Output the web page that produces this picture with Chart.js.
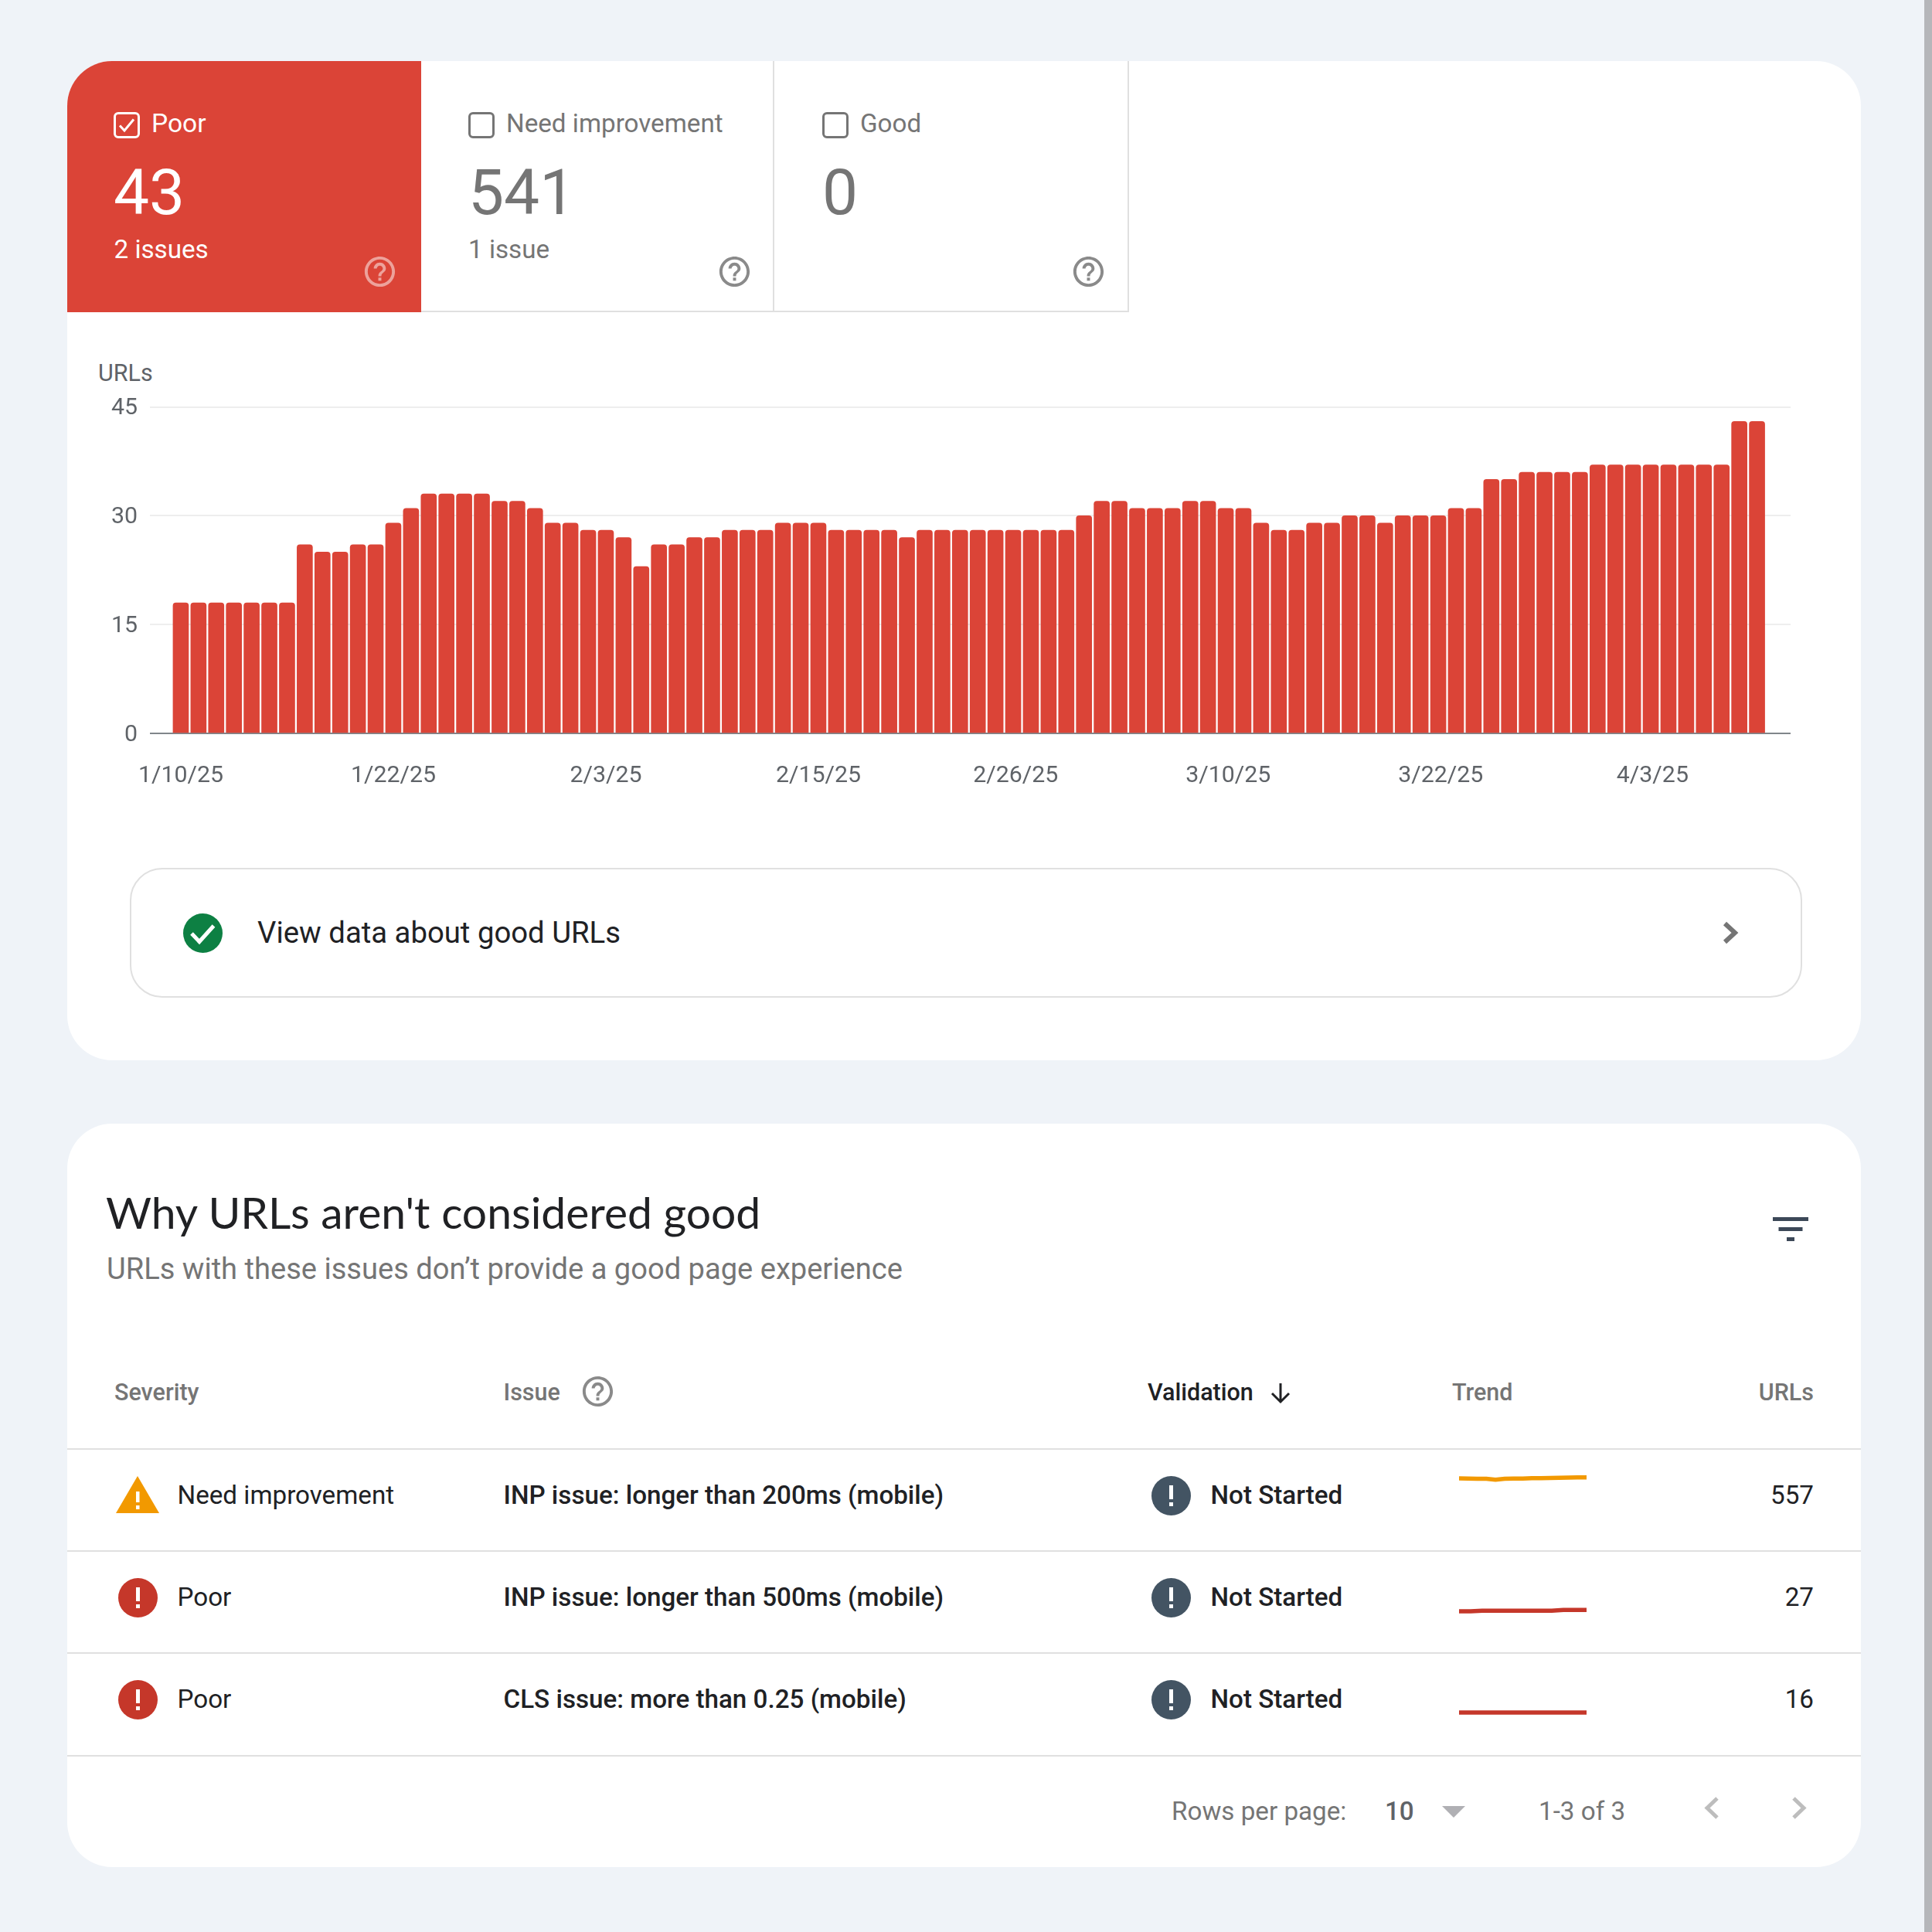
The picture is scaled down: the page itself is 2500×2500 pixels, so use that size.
<!DOCTYPE html>
<html>
<head>
<meta charset="utf-8">
<script src="https://cdn.jsdelivr.net/npm/chart.js@4"></script>
<style>
  html, body { margin: 0; padding: 0; }
  body { width: 2500px; height: 2500px; position: relative; overflow: hidden; background: #eff3f8; font-family: Roboto, sans-serif; }
  .abs { position: absolute; }
  .card { position: absolute; left: 87px; width: 2321px; background: #fff; border-radius: 58px; }
  .t { position: absolute; white-space: nowrap; line-height: 1; }
  canvas { position: absolute; display: block; }
  svg { position: absolute; overflow: visible; }
</style>
</head>
<body>
<div class="abs" style="left:2490px;top:0;width:10px;height:2500px;background:#b5b6ba"></div>
<div class="card" style="top:79px;height:1293px"></div>
<div class="card" style="top:1454px;height:962px"></div>

<!-- status tiles -->
<div class="abs" style="left:87px;top:79px;width:458px;height:325px;background:#db4437;border-top-left-radius:58px"></div>
<div class="abs" style="left:545px;top:402px;width:916px;height:2px;background:#e0e0e0"></div>
<div class="abs" style="left:1000px;top:79px;width:2px;height:325px;background:#e0e0e0"></div>
<div class="abs" style="left:1459px;top:79px;width:2px;height:325px;background:#e0e0e0"></div>

<!-- link to good urls -->
<div class="abs" style="left:168px;top:1123px;width:2160px;height:164px;border:2.5px solid #e0e0e0;border-radius:42px"></div>

<canvas id="mainChart" width="2240" height="530" style="left:100px;top:500px"></canvas>
<canvas id="spark0" width="165" height="120" style="left:1888px;top:1880px"></canvas>
<canvas id="spark1" width="165" height="120" style="left:1888px;top:2012px"></canvas>
<canvas id="spark2" width="165" height="120" style="left:1888px;top:2144px"></canvas>

<script>
// one bar per day, 1/10/25 to 4/9/25
const dates = [
  '1/10/25','1/11/25','1/12/25','1/13/25','1/14/25','1/15/25','1/16/25','1/17/25','1/18/25','1/19/25',
  '1/20/25','1/21/25','1/22/25','1/23/25','1/24/25','1/25/25','1/26/25','1/27/25','1/28/25','1/29/25',
  '1/30/25','1/31/25','2/1/25','2/2/25','2/3/25','2/4/25','2/5/25','2/6/25','2/7/25','2/8/25',
  '2/9/25','2/10/25','2/11/25','2/12/25','2/13/25','2/14/25','2/15/25','2/16/25','2/17/25','2/18/25',
  '2/19/25','2/20/25','2/21/25','2/22/25','2/23/25','2/24/25','2/25/25','2/26/25','2/27/25','2/28/25',
  '3/1/25','3/2/25','3/3/25','3/4/25','3/5/25','3/6/25','3/7/25','3/8/25','3/9/25','3/10/25',
  '3/11/25','3/12/25','3/13/25','3/14/25','3/15/25','3/16/25','3/17/25','3/18/25','3/19/25','3/20/25',
  '3/21/25','3/22/25','3/23/25','3/24/25','3/25/25','3/26/25','3/27/25','3/28/25','3/29/25','3/30/25',
  '3/31/25','4/1/25','4/2/25','4/3/25','4/4/25','4/5/25','4/6/25','4/7/25','4/8/25','4/9/25'
];
const poorUrls = [
  18,18,18,18,18,18,18,26,25,25,
  26,26,29,31,33,33,33,33,32,32,
  31,29,29,28,28,27,23,26,26,27,
  27,28,28,28,29,29,29,28,28,28,
  28,27,28,28,28,28,28,28,28,28,
  28,30,32,32,31,31,31,32,32,31,
  31,29,28,28,29,29,30,30,29,30,
  30,30,31,31,35,35,36,36,36,36,
  37,37,37,37,37,37,37,37,43,43
];
const shownDates = ['1/10/25','1/22/25','2/3/25','2/15/25','2/26/25','3/10/25','3/22/25','4/3/25'];
// the later labels sit a little past their bar in the picture
const shownDateSlots = [0, 12, 24, 36, 47.14, 59.14, 71.14, 83.1];
const yTicks = [0, 15, 30, 45];

const trendNeedImprovement = [549,548,545,546,538,546,547,548,550,550,552,553,555,557,557];
const trendInp500 = [26,26,26.5,26.5,26.5,26.5,26.5,26.5,26.5,27,27,27];
const trendCls = [16,16,16,16,16,16,16,16,16,16,16,16];
const trendMax = [757, 66.5, 40];

const rows = [
  ['Need improvement', 'INP issue: longer than 200ms (mobile)', 'Not Started', '557'],
  ['Poor', 'INP issue: longer than 500ms (mobile)', 'Not Started', '27'],
  ['Poor', 'CLS issue: more than 0.25 (mobile)', 'Not Started', '16']
];

const RED = '#db4437', GREY = '#757575', DARK = '#202124';
const HELP = 'M11 18h2v-2h-2v2zm1-16C6.48 2 2 6.48 2 12s4.48 10 10 10 10-4.48 10-10S17.52 2 12 2zm0 18c-4.41 0-8-3.59-8-8s3.59-8 8-8 8 3.59 8 8-3.59 8-8 8zm0-14c-2.21 0-4 1.79-4 4h2c0-1.1.9-2 2-2s2 .9 2 2c0 2-3 1.75-3 5h2c0-2.25 3-2.5 3-5 0-2.21-1.79-4-4-4z';

// text placed by its left (or right) edge and vertical centre
function text(str, x, cy, size, color, weight, right, family) {
  let el = document.createElement('div');
  el.className = 't';
  el.textContent = str;
  el.style.top = (cy - size / 2) + 'px';
  if (right) el.style.right = (2500 - x) + 'px'; else el.style.left = x + 'px';
  el.style.fontSize = size + 'px';
  el.style.color = color;
  el.style.fontWeight = weight || 400;
  if (family) el.style.fontFamily = family;
  document.body.appendChild(el);
  return el;
}

function svg(x, y, w, h, inner, viewBox) {
  let holder = document.createElement('div');
  holder.innerHTML = `<svg xmlns="http://www.w3.org/2000/svg" width="${w}" height="${h}" viewBox="${viewBox || `0 0 ${w} ${h}`}" style="left:${x}px;top:${y}px">${inner}</svg>`;
  document.body.appendChild(holder.firstChild);
}

function helpIcon(cx, cy, color, opacity) {
  svg(cx - 23.5, cy - 23.5, 47, 47, `<path d="${HELP}" fill="${color}" opacity="${opacity || 1}"/>`, '0 0 24 24');
}

function checkbox(x, color, checked) {
  svg(x, 145, 34, 34, `<rect x="1.5" y="1.5" width="31" height="31" rx="4.5" fill="none" stroke="${color}" stroke-width="3"/>` +
    (checked ? `<path d="M8 17.5l6 6.5 12-14.5" fill="none" stroke="${color}" stroke-width="3"/>` : ''));
}

function alertCircle(cx, cy, color) {
  svg(cx - 25.5, cy - 25.5, 51, 51, `<circle cx="25.5" cy="25.5" r="25.5" fill="${color}"/>` +
    `<rect x="23" y="12" width="5" height="18" fill="#fff"/><rect x="23" y="34" width="5" height="5" fill="#fff"/>`);
}

// tiles
checkbox(147, '#fff', true);
text('Poor', 196, 159.5, 33.5, '#fff');
text('43', 147, 249, 82, '#fff');
text('2 issues', 147.5, 322.5, 33.2, '#fff');
helpIcon(491, 351, '#fff', 0.5);

checkbox(606, GREY, false);
text('Need improvement', 655, 159.5, 33.2, GREY);
text('541', 606, 249, 82, GREY);
text('1 issue', 606, 322.5, 33.2, GREY);
helpIcon(950, 351, GREY, 0.85);

checkbox(1064, GREY, false);
text('Good', 1113, 159.5, 33.2, GREY);
text('0', 1064, 249, 82, GREY);
helpIcon(1408, 351, GREY, 0.85);

text('URLs', 127, 483.5, 30.5, '#5f6368');

// good urls link
svg(236.5, 1181.5, 51, 51, `<circle cx="25.5" cy="25.5" r="25.5" fill="#0d8043"/><path d="M11 26l10 10.5L39.5 16" fill="none" stroke="#fff" stroke-width="5"/>`);
text('View data about good URLs', 333, 1207, 38.3, DARK);
svg(2229, 1192, 20, 30, `<path d="M3 3l13 12L3 27" fill="none" stroke="${GREY}" stroke-width="6"/>`);

// issues card
text("Why URLs aren't considered good", 137, 1568.5, 57, DARK, 400, false, 'Lato');
text('URLs with these issues don\u2019t provide a good page experience', 138, 1642, 38.1, GREY);
svg(2294, 1575, 46, 32, `<rect y="0" width="46" height="5" fill="#3c4858"/><rect x="7.5" y="13" width="31" height="5" fill="#3c4858"/><rect x="18" y="26" width="10" height="5" fill="#3c4858"/>`);

text('Severity', 148, 1802, 30.5, GREY, 500);
text('Issue', 651.5, 1802, 30.5, GREY, 500);
helpIcon(773, 1800, GREY, 0.85);
text('Validation', 1485, 1802, 30.5, DARK, 500);
svg(1644, 1789, 26, 28, `<path d="M13 1v24M2 14l11 11 11-11" fill="none" stroke="${DARK}" stroke-width="3"/>`);
text('Trend', 1879, 1802, 30.5, GREY, 500);
text('URLs', 2347, 1802, 30.5, GREY, 500, true);

[1875, 2007, 2139, 2272].forEach(y => {
  let line = document.createElement('div');
  line.className = 'abs';
  line.style.cssText = `left:87px;top:${y - 1}px;width:2321px;height:2px;background:#e0e0e0`;
  document.body.appendChild(line);
});

rows.forEach((row, i) => {
  let cy = 1935 + i * 132;
  if (row[0] === 'Poor') {
    alertCircle(178, cy, '#c5372a');
  } else {
    svg(150, 1910, 56, 48, `<path d="M28 0L56 48H0z" fill="#f29900"/><rect x="26" y="20" width="4.5" height="14" fill="#fff"/><rect x="26" y="38" width="4.5" height="5" fill="#fff"/>`);
  }
  text(row[0], 229.5, cy, 33.2, DARK);
  text(row[1], 651.5, cy, 33.2, DARK, 500);
  alertCircle(1515, cy, '#435463');
  text(row[2], 1566.5, cy, 33.2, DARK, 500);
  text(row[3], 2347, cy, 33.2, DARK, 400, true);
});

// pagination
text('Rows per page:', 1516, 2344, 33.2, GREY);
text('10', 1792, 2344, 33.2, '#5f6368', 500);
svg(1866, 2337, 30, 15, `<path d="M0 0h30L15 15z" fill="#b0b0b4"/>`);
text('1-3 of 3', 1991, 2344, 33.2, GREY);
svg(2204, 2325, 20, 29, `<path d="M18 2L5 14.5 18 27" fill="none" stroke="#bdbdbd" stroke-width="5"/>`);
svg(2319, 2325, 20, 29, `<path d="M2 2l13 12.5L2 27" fill="none" stroke="#bdbdbd" stroke-width="5"/>`);

Chart.defaults.font.family = 'Roboto';
Chart.defaults.animation = false;

new Chart(document.getElementById('mainChart'), {
  type: 'bar',
  data: {
    datasets: [{
      label: 'URLs',
      data: dates.map((d, i) => ({ x: i, y: poorUrls[i] })),
      backgroundColor: RED,
      barThickness: 20,
      borderRadius: { topLeft: 4, topRight: 4, bottomLeft: 0, bottomRight: 0 }
    }]
  },
  options: {
    responsive: false,
    devicePixelRatio: 1,
    layout: { autoPadding: false, padding: { top: 26.5, right: 23 } },
    plugins: { legend: { display: false }, tooltip: { enabled: false } },
    scales: {
      x: {
        type: 'linear',
        offset: false,
        min: -1.743,
        max: 90.895,
        grid: { display: false },
        border: { display: false },
        afterBuildTicks: axis => {
          axis.ticks = shownDateSlots.map(v => ({ value: v }));
        },
        afterFit: axis => { axis.height = 81; },
        ticks: {
          autoSkip: false,
          maxRotation: 0,
          padding: 29,
          color: '#5f6368',
          font: { size: 30.3 },
          callback: value => shownDates[shownDateSlots.indexOf(value)]
        }
      },
      y: {
        min: 0,
        max: 45,
        grid: {
          lineWidth: 2,
          drawTicks: false,
          color: c => c.tick.value === 0 ? '#80868b' : '#eeeeee'
        },
        border: { display: false },
        afterBuildTicks: axis => {
          axis.ticks = yTicks.map(v => ({ value: v }));
        },
        afterFit: axis => {
          axis.width = 94;
          axis.paddingTop = 0;
          axis.paddingBottom = 0;
        },
        ticks: { padding: 16, labelOffset: 2, color: '#5f6368', font: { size: 30.3 } }
      }
    }
  }
});

function sparkline(id, values, max, color) {
  new Chart(document.getElementById(id), {
    type: 'line',
    data: {
      labels: values.map((v, i) => i),
      datasets: [{ data: values, borderColor: color, borderWidth: 5.5, pointRadius: 0, tension: 0, borderCapStyle: 'butt' }]
    },
    options: {
      responsive: false,
      devicePixelRatio: 1,
      layout: { autoPadding: false },
      plugins: { legend: { display: false }, tooltip: { enabled: false } },
      scales: {
        x: { display: false, offset: false },
        y: { display: false, min: 0, max: max }
      }
    }
  });
}

sparkline('spark0', trendNeedImprovement, trendMax[0], '#f29900');
sparkline('spark1', trendInp500, trendMax[1], '#c5372a');
sparkline('spark2', trendCls, trendMax[2], '#c5372a');
</script>
</body>
</html>
